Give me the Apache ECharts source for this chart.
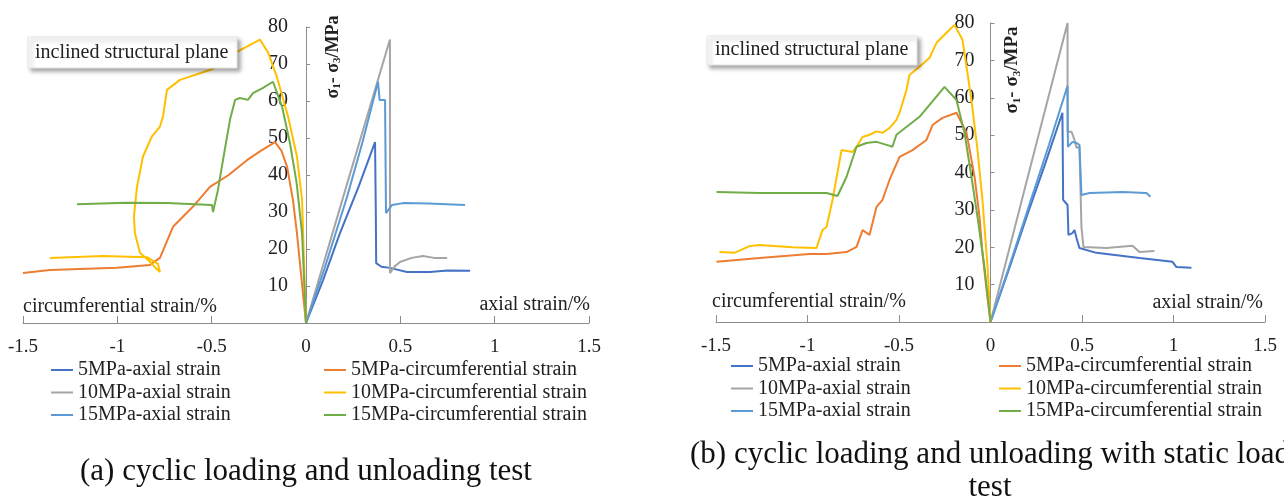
<!DOCTYPE html>
<html>
<head>
<meta charset="utf-8">
<script src="https://cdn.jsdelivr.net/npm/echarts@6/dist/echarts.min.js"></script>
<style>
html,body{margin:0;padding:0;background:#fff;}
#chart{width:1284px;height:504px;}
</style>
</head>
<body>
<div id="chart"></div>
<script>
// ---- Data (strain %, deviatoric stress MPa) ----
const seriesNames = ['5MPa-axial strain','10MPa-axial strain','15MPa-axial strain',
  '5MPa-circumferential strain','10MPa-circumferential strain','15MPa-circumferential strain'];
const seriesColors = ['#4472C4','#A5A5A5','#5B9BD5','#ED7D31','#FFC000','#70AD47'];
const xTicks = [-1.5,-1,-0.5,0,0.5,1,1.5];
const yTicks = [10,20,30,40,50,60,70,80];

// Panel (a): cyclic loading and unloading test
const a5Axial = [[0,0],[0.09,11.5],[0.18,24.3],[0.28,37],[0.366,48.9],[0.37,30],[0.372,16.2],[0.40,15.2],[0.445,14.9],[0.535,13.8],[0.657,13.8],[0.75,14.2],[0.87,14.1]];
const a10Axial = [[0,0],[0.22,38],[0.445,76.6],[0.445,13.5],[0.47,15.3],[0.498,16.5],[0.56,17.6],[0.62,18.1],[0.68,17.6],[0.748,17.6]];
const a15Axial = [[0,0],[0.1,15],[0.217,34],[0.3,49],[0.382,65.2],[0.39,60.3],[0.419,60.3],[0.424,29.7],[0.456,31.9],[0.514,32.4],[0.65,32.3],[0.843,31.9]];
const a5Circ = [[0,0],[-0.02,10],[-0.048,24.3],[-0.069,33.2],[-0.1,42.2],[-0.13,46.5],[-0.164,48.9],[-0.24,46.5],[-0.313,44],[-0.41,40],[-0.509,36.8],[-0.6,31.4],[-0.705,26],[-0.774,17.6],[-0.827,15.7],[-1.002,14.9],[-1.2,14.6],[-1.357,14.3],[-1.5,13.5]];
const a10Circ = [[0,0],[-0.021,33.3],[-0.048,45],[-0.095,55.8],[-0.155,66.6],[-0.2,73],[-0.244,76.6],[-0.366,73.3],[-0.498,68.6],[-0.668,65.7],[-0.737,63],[-0.758,55.8],[-0.774,53.1],[-0.817,50.4],[-0.864,45],[-0.896,36.8],[-0.912,28.7],[-0.907,24.3],[-0.88,19],[-0.82,16.2],[-0.79,14.5],[-0.774,13.8],[-0.785,16],[-0.843,17.8],[-1.076,18.1],[-1.357,17.6]];
const a15Circ = [[0,0],[-0.021,24.3],[-0.05,38],[-0.085,48.6],[-0.127,58.5],[-0.175,65.2],[-0.23,63.5],[-0.281,62.1],[-0.308,60.3],[-0.35,60.8],[-0.376,60.3],[-0.403,54.9],[-0.44,44],[-0.467,35.9],[-0.493,30],[-0.498,31.9],[-0.737,32.4],[-0.95,32.5],[-1.214,32.1]];

// Panel (b): cyclic loading and unloading with static load test
const b5Axial = [[0,0],[0.1,14],[0.2,28.5],[0.3,42.5],[0.393,56],[0.397,32.7],[0.421,31.3],[0.426,23.3],[0.448,23.8],[0.459,24.6],[0.47,22.5],[0.486,19.8],[0.579,18.5],[0.814,17.1],[0.995,16.1],[1.016,14.7],[1.098,14.5]];
const b10Axial = [[0,0],[0.21,40],[0.421,80],[0.421,50.9],[0.443,50.9],[0.459,48.7],[0.47,46.6],[0.486,46.9],[0.497,25.4],[0.508,20.1],[0.634,19.8],[0.776,20.4],[0.814,18.7],[0.896,19]];
const b15Axial = [[0,0],[0.1,14.5],[0.21,31],[0.32,47.5],[0.421,63.2],[0.423,46.9],[0.448,48.2],[0.47,47.9],[0.486,47.4],[0.497,34],[0.541,34.5],[0.721,34.8],[0.852,34.5],[0.874,33.5]];
const b5Circ = [[0,0],[-0.02,8],[-0.044,18.5],[-0.06,28.1],[-0.087,38.8],[-0.131,50.6],[-0.186,56],[-0.262,54.6],[-0.317,52.7],[-0.35,48.7],[-0.426,46],[-0.497,44.2],[-0.552,38],[-0.59,32.7],[-0.623,30.8],[-0.661,23.3],[-0.699,24.6],[-0.732,20.1],[-0.787,18.7],[-0.896,18.2],[-0.989,18.2],[-1.262,17.1],[-1.497,16.1]];
const b10Circ = [[0,0],[-0.016,14.7],[-0.044,32.7],[-0.071,46],[-0.104,59.4],[-0.153,75.5],[-0.197,79.5],[-0.24,77.4],[-0.295,74.7],[-0.333,70.7],[-0.388,68.3],[-0.443,66.1],[-0.459,62.1],[-0.497,56],[-0.514,54.1],[-0.552,51.9],[-0.59,50.6],[-0.623,51],[-0.661,50.1],[-0.699,49.5],[-0.732,46.9],[-0.754,45.5],[-0.814,46],[-0.863,32.7],[-0.896,25.4],[-0.918,24.6],[-0.951,19.8],[-1.082,20],[-1.262,20.6],[-1.317,20.3],[-1.399,18.5],[-1.481,18.7]];
const b15Circ = [[0,0],[-0.033,14.7],[-0.071,28.1],[-0.104,38.8],[-0.142,50.6],[-0.186,59.4],[-0.251,62.9],[-0.388,54.9],[-0.514,50.1],[-0.536,46.9],[-0.568,47.4],[-0.623,48.2],[-0.678,47.9],[-0.732,46.9],[-0.787,38.8],[-0.836,33.7],[-0.896,34.5],[-1.262,34.5],[-1.497,34.8]];

const panelA = [a5Axial,a10Axial,a15Axial,a5Circ,a10Circ,a15Circ];
const panelB = [b5Axial,b10Axial,b15Axial,b5Circ,b10Circ,b15Circ];

const FONT = 'Liberation Serif';
const TXT = '#222';
const AX = '#8c8c8c';
const GRIDS = [
  {left:23, top:27, width:566, height:296},
  {left:716, top:23, width:549, height:299}
];

function xAxisCfg(idx){
  return {
    type:'value', gridIndex:idx, min:xTicks[0], max:xTicks[xTicks.length-1], interval:0.5,
    axisLine:{show:true, onZero:false, lineStyle:{color:AX, width:1}},
    axisTick:{show:true, inside:true, length:7, lineStyle:{color:AX}},
    axisLabel:{show:true, margin:15, fontFamily:FONT, fontSize:19, color:TXT, formatter:v=>String(v)},
    splitLine:{show:false}
  };
}
function yAxisCfg(idx, margin){
  return {
    type:'value', gridIndex:idx, min:0, max:yTicks[yTicks.length-1], interval:10, position:'left', offset:0,
    axisLine:{show:true, onZero:false, lineStyle:{color:AX, width:1}},
    axisTick:{show:true, inside:true, length:4, lineStyle:{color:AX}},
    axisLabel:{show:true, margin:margin, fontFamily:FONT, fontSize:20, color:TXT,
      formatter:v=> yTicks.indexOf(v)>=0 ? String(v) : ''},
    splitLine:{show:false}
  };
}

const series = [];
[panelA, panelB].forEach((panel, p)=>{
  panel.forEach((data, i)=>{
    series.push({
      type:'line', name:seriesNames[i], xAxisIndex:p, yAxisIndex:p,
      data:data, showSymbol:false, symbol:'none', smooth:false, animation:false,
      lineStyle:{color:seriesColors[i], width:2}, itemStyle:{color:seriesColors[i]},
      z: 2
    });
  });
});

function legendCfg(left, top, names){
  return {
    left:left, top:top, orient:'vertical', icon:'rect', itemWidth:22, itemHeight:2, itemGap:2.5,
    padding:0, data:names, selectedMode:false,
    textStyle:{fontFamily:FONT, fontSize:20, color:TXT, lineHeight:20, padding:0}
  };
}

function yTitle(x, y, fs){
  return {
    type:'text', x:x, y:y, rotation:Math.PI/2, z:100,
    style:{
      text:'{b|σ}{s|1}{b|- σ}{s|3}{b|/MPa}',
      align:'center', verticalAlign:'middle', fill:TXT,
      rich:{
        b:{fontFamily:FONT, fontSize:fs, fontWeight:'bold', fill:TXT, lineHeight:fs+2},
        s:{fontFamily:FONT, fontSize:Math.round(fs*0.6), fontWeight:'bold', fill:TXT, verticalAlign:'bottom'}
      }
    }
  };
}
function txt(x, y, s, opts){
  return Object.assign({type:'text', x:x, y:y, z:100,
    style:Object.assign({text:s, fontFamily:FONT, fontSize:20, fill:TXT, align:'left', verticalAlign:'middle'}, opts||{})});
}
function box(x, y, w, h){
  return {type:'rect', z:99, shape:{x:x, y:y, width:w, height:h},
    style:{fill:'#fff', stroke:'#e6e6e6', lineWidth:1, shadowBlur:4, shadowOffsetX:3, shadowOffsetY:3, shadowColor:'rgba(0,0,0,0.35)'}};
}

const option = {
  backgroundColor:'#fff',
  animation:false,
  grid:GRIDS.map(g=>Object.assign({containLabel:false, outerBoundsMode:'none'}, g)),
  xAxis:[xAxisCfg(0), xAxisCfg(1)],
  yAxis:[yAxisCfg(0,18), yAxisCfg(1,16)],
  legend:[
    legendCfg(51, 360, seriesNames.slice(0,3)),
    legendCfg(324, 360, seriesNames.slice(3)),
    legendCfg(731, 356, seriesNames.slice(0,3)),
    legendCfg(999, 356, seriesNames.slice(3))
  ],
  series:series,
  graphic:[
    box(28, 37, 209, 31),
    txt(35, 53, 'inclined structural plane'),
    box(707, 36, 210, 29),
    txt(715, 50, 'inclined structural plane'),
    txt(23, 307, 'circumferential strain/%'),
    txt(590, 305, 'axial strain/%', {align:'right'}),
    txt(712, 302, 'circumferential strain/%'),
    txt(1263, 303, 'axial strain/%', {align:'right'}),
    yTitle(333, 57, 18),
    yTitle(1012, 70, 19),
    txt(306, 472, '(a) cyclic loading and unloading test', {fontSize:31, align:'center', fill:'#111'}),
    txt(990, 455, '(b) cyclic loading and unloading with static load', {fontSize:31, align:'center', fill:'#111'}),
    txt(990, 488, 'test', {fontSize:31, align:'center', fill:'#111'})
  ]
};

const chart = echarts.init(document.getElementById('chart'), null, {renderer:'canvas'});
chart.setOption(option);
// Place each y axis at the x = 0 position of its own x axis (computed by the library scale)
const yOffsets = GRIDS.map((g, i)=>{
  const zeroPx = chart.convertToPixel({xAxisIndex:i}, 0);
  return -(zeroPx - g.left);
});
chart.setOption({yAxis: yOffsets.map(o=>({offset:o}))});
</script>
</body>
</html>
